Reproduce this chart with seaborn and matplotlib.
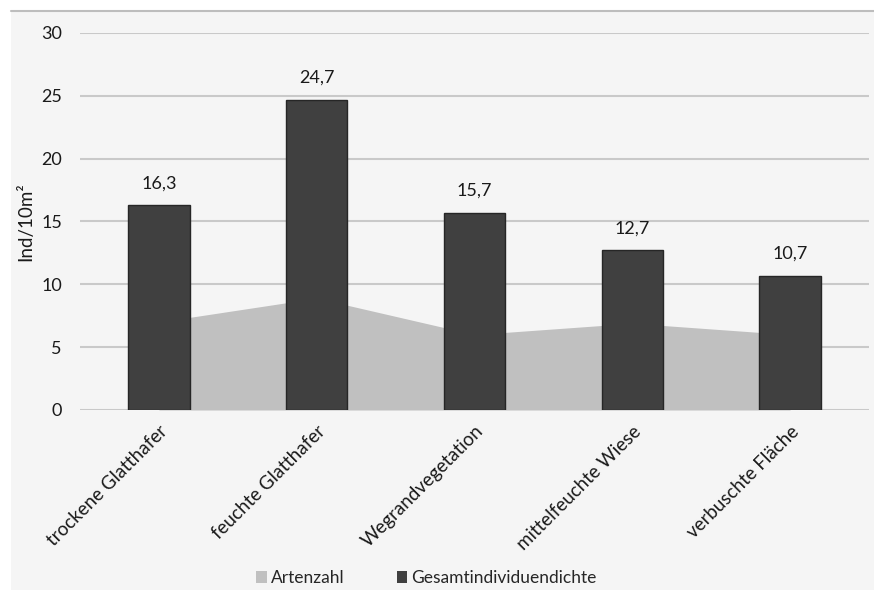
import matplotlib
matplotlib.use("Agg")
import matplotlib.pyplot as plt
from matplotlib.patches import Rectangle, Patch
from matplotlib.lines import Line2D
import seaborn as sns
import pandas as pd
import numpy as np

# Habitat types and survey values
categories = ["trockene Glatthafer", "feuchte Glatthafer", "Wegrandvegetation",
              "mittelfeuchte Wiese", "verbuschte Fläche"]
artenzahl = [7.0, 8.9, 6.0, 6.9, 6.0]
gesamtdichte = [16.3, 24.7, 15.7, 12.7, 10.7]
y_ticks = [0, 5, 10, 15, 20, 25, 30]

bar_color = "#404040"
area_color = "#c0c0c0"
panel_color = "#f5f5f5"
grid_color = "#c9c9c9"
text_color = "#1a1a1a"

sns.set_theme(style="white")
plt.rcParams["font.family"] = ["Lato", "DejaVu Sans"]

fig = plt.figure(figsize=(8.74, 5.90), dpi=100)
fig.patch.set_facecolor("white")

# light chart panel with a thin top border
W, H = 874, 590
fig.patches.append(Rectangle((11 / W, 0), 1 - 11 / W, 1 - 11 / H,
                             transform=fig.transFigure, facecolor=panel_color,
                             edgecolor="none", zorder=-10))
fig.lines.append(Line2D([11 / W, 1], [1 - 11 / H, 1 - 11 / H],
                        transform=fig.transFigure, color="#bdbdbd", lw=1.5,
                        zorder=-9))

ax = fig.add_axes([80 / W, (H - 410) / H, (869 - 80) / W, (410 - 33) / H])
ax.set_facecolor("none")
ax.set_zorder(1)

df = pd.DataFrame({"Kategorie": categories,
                   "Artenzahl": artenzahl,
                   "Gesamtindividuendichte": gesamtdichte})

x = np.arange(len(categories))
ax.fill_between(x, df["Artenzahl"], 0, color=area_color, lw=0, zorder=2)

sns.barplot(data=df, x="Kategorie", y="Gesamtindividuendichte", color=bar_color,
            saturation=1, width=0.39, edgecolor="#262626", linewidth=1,
            ax=ax, zorder=3)

labels = [f"{v:.1f}".replace(".", ",") for v in gesamtdichte]
ax.bar_label(ax.containers[0], labels=labels, padding=10, fontsize=13,
             color=text_color)

ax.set_ylim(0, 30)
ax.set_xlim(-0.5, len(categories) - 0.5)
ax.set_yticks(y_ticks)
ax.set_yticklabels([str(t) for t in y_ticks])
ax.yaxis.grid(True, color=grid_color, lw=1.5, zorder=0)
ax.set_axisbelow(True)
for s in ax.spines.values():
    s.set_visible(False)

ax.tick_params(axis="y", length=0, pad=13, labelsize=13, labelcolor=text_color)
ax.tick_params(axis="x", length=0, pad=9, labelsize=13.5, labelcolor=text_color)
plt.setp(ax.get_xticklabels(), rotation=45, ha="right", rotation_mode="anchor")

ax.set_xlabel("")
ax.set_ylabel("Ind/10m²", fontsize=13.5, color=text_color, labelpad=5)

handles = [Patch(facecolor=area_color, edgecolor="none", label="Artenzahl"),
           Patch(facecolor=bar_color, edgecolor="none", label="Gesamtindividuendichte")]
fig.legend(handles=handles, loc="lower center", bbox_to_anchor=(0.488, -0.02),
           ncol=2, frameon=False, fontsize=12.5, handlelength=0.6, handleheight=0.7,
           handletextpad=0.25, columnspacing=3.0)

fig.savefig("out.png", dpi=100, facecolor=fig.get_facecolor())
